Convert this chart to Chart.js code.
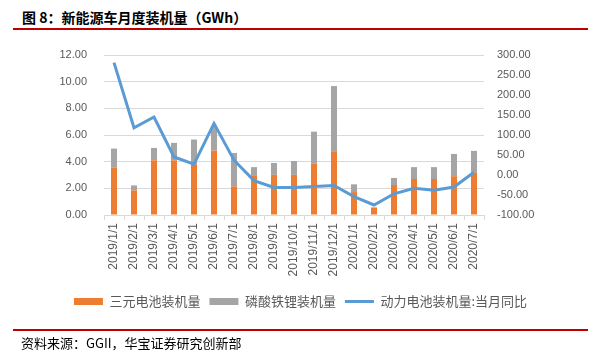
<!DOCTYPE html>
<html>
<head>
<meta charset="utf-8">
<script src="https://cdn.jsdelivr.net/npm/chart.js@4"></script>
<style>
  body { margin: 0; width: 601px; height: 358px; background: #fff; position: relative; overflow: hidden; }
  .titulo { position: absolute; left: 22px; top: 7px; font: bold 14px "Noto Sans CJK SC", sans-serif; color: #000; }
  .linea { position: absolute; left: 13px; width: 575px; height: 2px; background: #c00000; }
  .fuente { position: absolute; left: 21px; top: 333px; font: 13px "Noto Sans CJK SC", sans-serif; color: #000; }
  #grafico { position: absolute; left: 0; top: 0; }
</style>
</head>
<body>
<div class="titulo">图 8：新能源车月度装机量（GWh）</div>
<div class="linea" style="top:28px"></div>
<canvas id="grafico" width="601" height="358"></canvas>
<div class="linea" style="top:329px"></div>
<div class="fuente">资料来源：GGII，华宝证券研究创新部</div>
<script>
// datos
const meses = ["2019/1/1", "2019/2/1", "2019/3/1", "2019/4/1", "2019/5/1", "2019/6/1", "2019/7/1",
  "2019/8/1", "2019/9/1", "2019/10/1", "2019/11/1", "2019/12/1", "2020/1/1", "2020/2/1",
  "2020/3/1", "2020/4/1", "2020/5/1", "2020/6/1", "2020/7/1"];
const sanyuan = [3.54, 1.85, 4.10, 4.10, 3.80, 4.83, 2.15, 2.93, 3.01, 3.01, 3.84, 4.73, 1.72, 0.55, 2.25, 2.70, 2.70, 2.91, 3.16];
const lfp = [1.44, 0.37, 0.93, 1.31, 1.86, 1.82, 2.50, 0.66, 0.89, 1.04, 2.41, 4.94, 0.58, 0.03, 0.53, 0.89, 0.89, 1.67, 1.65];
const tongbi = [281, 118, 145, 45, 27, 129, 37, -14, -31, -31, -29, -26, -54, -75, -47, -33, -38, -30, 7];

const gris = "#d9d9d9";
const texto = "#595959";

const config = {
  type: "bar",
  data: {
    labels: meses,
    datasets: [
      {
        label: "三元电池装机量",
        data: sanyuan,
        backgroundColor: "#ed7d31",
        borderWidth: 0,
        yAxisID: "y",
        barPercentage: 0.3,
        categoryPercentage: 1,
        order: 1
      },
      {
        label: "磷酸铁锂装机量",
        data: lfp,
        backgroundColor: "#a5a5a5",
        borderWidth: 0,
        yAxisID: "y",
        barPercentage: 0.3,
        categoryPercentage: 1,
        order: 1
      },
      {
        type: "line",
        label: "动力电池装机量:当月同比",
        data: tongbi,
        borderColor: "#5b9bd5",
        backgroundColor: "#5b9bd5",
        borderWidth: 3,
        pointRadius: 0,
        tension: 0,
        yAxisID: "y1",
        order: 0
      }
    ]
  },
  options: {
    responsive: false,
    animation: false,
    layout: { padding: { top: 55, left: 0, right: 0, bottom: 40 } },
    plugins: {
      tooltip: { enabled: false },
      legend: {
        position: "bottom",
        labels: {
          color: texto,
          font: { family: "'Noto Sans CJK SC', sans-serif", size: 13 },
          usePointStyle: true,
          pointStyleWidth: 29,
          boxHeight: 7,
          padding: 9,
          sort: (a, b) => a.datasetIndex - b.datasetIndex,
          generateLabels: (chart) => {
            const items = Chart.defaults.plugins.legend.labels.generateLabels(chart);
            items.forEach((it) => { it.pointStyle = it.datasetIndex === 2 ? "line" : "rect"; });
            return items;
          }
        }
      }
    },
    scales: {
      x: {
        stacked: true,
        offset: true,
        grid: { display: true, drawOnChartArea: false, offset: true, tickLength: 5, color: gris },
        border: { color: gris },
        ticks: {
          minRotation: 90, maxRotation: 90, padding: 3,
          color: texto, font: { family: "'Liberation Sans', Arial, sans-serif", size: 12 }
        },
        afterFit: (s) => { s.height = 71; }
      },
      y: {
        stacked: true,
        position: "left",
        min: 0, max: 12,
        grid: { color: gris, drawTicks: false },
        border: { display: false },
        ticks: {
          stepSize: 2, padding: 17, color: texto,
          font: { family: "'Liberation Sans', Arial, sans-serif", size: 11 },
          callback: (v) => v.toFixed(2)
        },
        afterFit: (s) => { s.width = 104; }
      },
      y1: {
        position: "right",
        min: -100, max: 300,
        grid: { drawOnChartArea: false, drawTicks: false },
        border: { display: false },
        ticks: {
          stepSize: 50, padding: 13, color: texto,
          font: { family: "'Liberation Sans', Arial, sans-serif", size: 11 },
          callback: (v) => v.toFixed(2)
        },
        afterFit: (s) => { s.width = 117; }
      }
    }
  }
};

new Chart(document.getElementById("grafico").getContext("2d"), config);
</script>
</body>
</html>
